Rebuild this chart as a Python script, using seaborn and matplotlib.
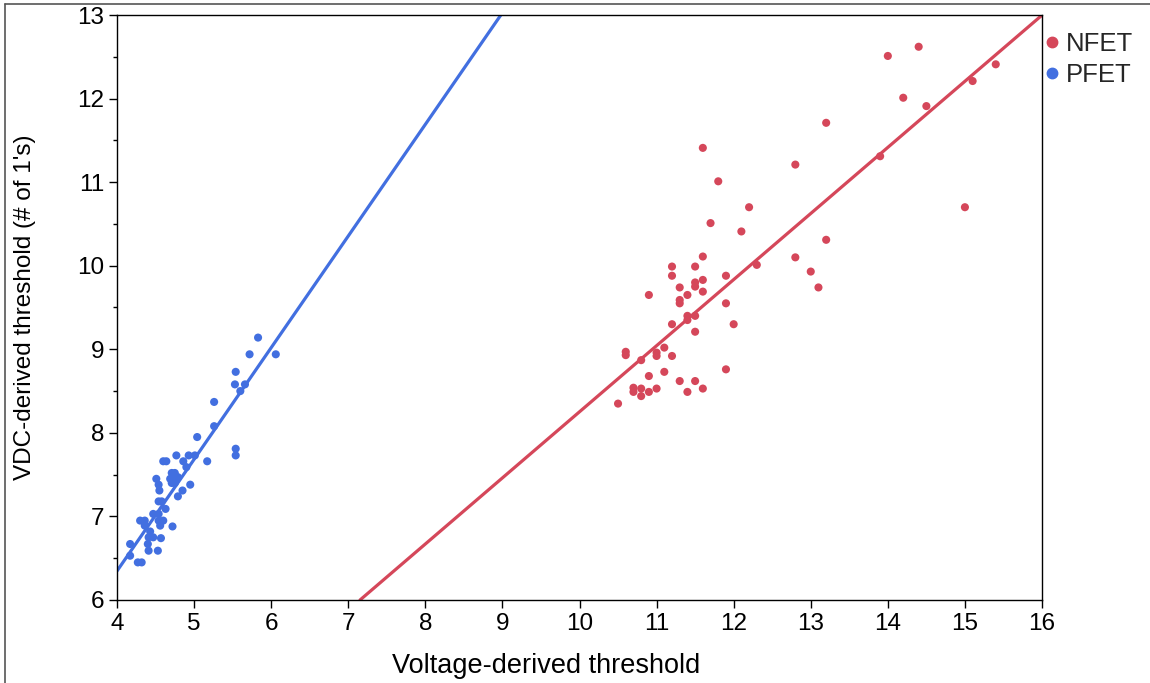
import numpy as np
import pandas as pd
import seaborn as sns
import matplotlib
matplotlib.use("Agg")
import matplotlib.pyplot as plt
from matplotlib.lines import Line2D
from matplotlib.ticker import MultipleLocator

# ---- data ----
nfet_x = [10.5, 10.6, 10.6, 10.7, 10.7, 10.8, 10.8, 10.8, 10.9, 10.9, 10.9, 11.0, 11.0, 11.0,
          11.1, 11.1, 11.2, 11.2, 11.2, 11.2, 11.3, 11.3, 11.3, 11.3, 11.4, 11.4, 11.4, 11.4,
          11.5, 11.5, 11.5, 11.5, 11.5, 11.5, 11.6, 11.6, 11.6, 11.6, 11.6, 11.7, 11.8, 11.9,
          11.9, 11.9, 12.0, 12.1, 12.2, 12.3, 12.8, 12.8, 13.0, 13.1, 13.2, 13.2, 13.9, 14.0,
          14.2, 14.4, 14.5, 15.0, 15.1, 15.4]
nfet_y = [8.35, 8.97, 8.93, 8.54, 8.49, 8.53, 8.44, 8.87, 9.65, 8.68, 8.49, 8.53, 8.96, 8.92,
          9.02, 8.73, 8.92, 9.99, 9.88, 9.30, 9.74, 9.59, 9.55, 8.62, 8.49, 9.40, 9.35, 9.65,
          9.99, 9.80, 9.75, 9.40, 9.21, 8.62, 11.41, 10.11, 9.83, 9.69, 8.53, 10.51, 11.01, 9.88,
          9.55, 8.76, 9.30, 10.41, 10.70, 10.01, 11.21, 10.10, 9.93, 9.74, 11.71, 10.31, 11.31, 12.51,
          12.01, 12.62, 11.91, 10.70, 12.21, 12.41]

pfet_x = [5.83, 5.72, 6.06, 5.54, 5.53, 5.66, 5.60, 5.26, 5.26, 5.04, 5.54, 5.54, 4.77, 4.93,
          5.01, 4.60, 4.64, 4.86, 5.17, 4.90, 4.71, 4.75, 4.69, 4.74, 4.79, 4.71, 4.75, 4.51,
          4.54, 4.55, 4.95, 4.85, 4.79, 4.54, 4.58, 4.63, 4.47, 4.54, 4.30, 4.36, 4.54, 4.60,
          4.36, 4.56, 4.72, 4.43, 4.41, 4.47, 4.57, 4.17, 4.40, 4.41, 4.53, 4.17, 4.27, 4.32]
pfet_y = [9.14, 8.94, 8.94, 8.73, 8.58, 8.58, 8.50, 8.37, 8.08, 7.95, 7.81, 7.73, 7.73, 7.73,
          7.73, 7.66, 7.66, 7.66, 7.66, 7.59, 7.52, 7.52, 7.45, 7.45, 7.47, 7.40, 7.40, 7.45,
          7.38, 7.31, 7.38, 7.31, 7.24, 7.18, 7.18, 7.09, 7.03, 7.03, 6.95, 6.95, 6.95, 6.95,
          6.89, 6.89, 6.88, 6.82, 6.75, 6.75, 6.74, 6.67, 6.67, 6.59, 6.59, 6.53, 6.45, 6.45]

# fitted lines (intercept, slope)
nfet_fit = (0.342, 0.791)
pfet_fit = (1.003, 1.336)

groups = ["NFET", "PFET"]
colors = {"NFET": "#D5475A", "PFET": "#426FE0"}

x_ticks = [4, 5, 6, 7, 8, 9, 10, 11, 12, 13, 14, 15, 16]
y_ticks = [6, 7, 8, 9, 10, 11, 12, 13]

df = pd.DataFrame({
    "x": nfet_x + pfet_x,
    "y": nfet_y + pfet_y,
    "type": ["NFET"] * len(nfet_x) + ["PFET"] * len(pfet_x),
})

sns.set_theme(style="ticks")
plt.rcParams["font.family"] = ["Liberation Sans", "DejaVu Sans"]

fig = plt.figure(figsize=(11.5, 6.83), dpi=100)
ax = fig.add_axes([117 / 1150, 1 - 600 / 683, (1042 - 117) / 1150, (600 - 15) / 683])

sns.scatterplot(data=df, x="x", y="y", hue="type", hue_order=groups, palette=colors,
                s=34, linewidth=0, ax=ax, zorder=3)

for g, (b0, b1) in zip(groups, [nfet_fit, pfet_fit]):
    ax.axline((0, b0), slope=b1, color=colors[g], lw=2.3, zorder=2)

ax.set_xlim(4, 16)
ax.set_ylim(6, 13)
ax.set_xticks(x_ticks)
ax.set_yticks(y_ticks)
ax.yaxis.set_minor_locator(MultipleLocator(0.5))
ax.tick_params(axis="both", which="major", labelsize=17.5, length=6, width=1, color="black",
               direction="out", pad=3, labelcolor="black")
ax.tick_params(axis="y", which="minor", length=3, width=1, color="black")
for sp in ax.spines.values():
    sp.set_visible(True)
    sp.set_color("black")
    sp.set_linewidth(1)

ax.set_xlabel("Voltage-derived threshold", fontsize=19.5, color="black")
ax.set_ylabel("VDC-derived threshold (# of 1's)", fontsize=17.5, color="black")
ax.xaxis.set_label_coords(0.464, -0.09)
ax.yaxis.set_label_coords(-0.088, 0.5)

handles = [Line2D([], [], marker="o", ls="", color=colors[g], markersize=7.5) for g in groups]
ax.legend(handles, groups, loc="upper left", bbox_to_anchor=(0.9855, 0.998), frameon=False,
          fontsize=18.5, handletextpad=0.25, handlelength=0.6, labelspacing=0.3,
          borderaxespad=0.2)

# outer figure frame
fig.add_artist(Line2D([5 / 1150, 5 / 1150], [0, 1 - 4 / 683], color="#555555", lw=1.2))
fig.add_artist(Line2D([5 / 1150, 1], [1 - 4 / 683, 1 - 4 / 683], color="#555555", lw=1.2))

fig.savefig("out.png", dpi=100)
